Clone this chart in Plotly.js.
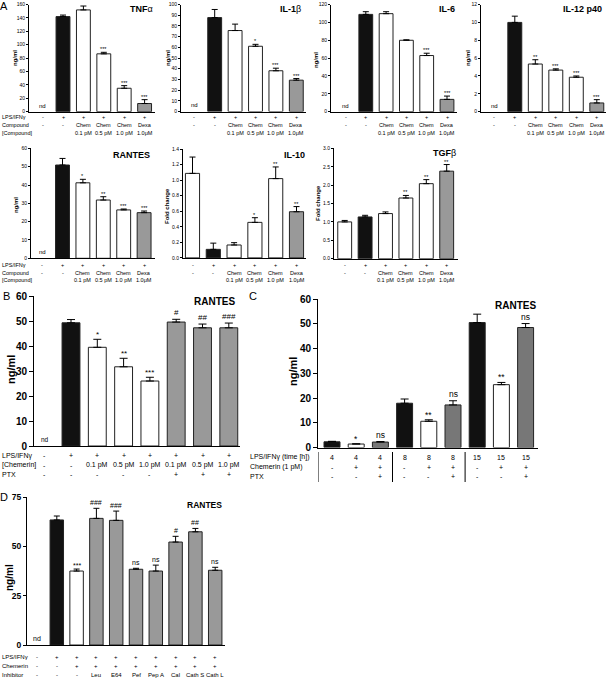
<!DOCTYPE html>
<html><head><meta charset="utf-8">
<script src="https://cdn.plot.ly/plotly-3.0.1.min.js"></script>
<style>body{margin:0;padding:0;background:#fff}#chart{width:608px;height:679px}</style>
</head><body><div id="chart"></div>
<script>
// ---------------- DATA ----------------
const aRow1 = ["-","+","+","+","+","+"];
const aRow2 = ["-","-","Chem","Chem","Chem","Dexa"];
const aRow3 = ["","","0.1 pM","0.5 pM","1.0 pM","1.0\u03bcM"];
const aRowLabels = ["LPS/IFN\u03b3","Compound","[Compound]"];

const tnfValues  = [null,142,152,86.4,35,12.2];
const tnfErrors  = [0,2.3,5.8,2.3,3.9,5.8];
const tnfSig     = ["","","","***","***","***"];

const il1bValues = [null,87.8,75.7,61,38.1,29.3];
const il1bErrors = [0,7.6,6,1.8,2.4,1.5];
const il1bSig    = ["","","","*","***","***"];

const il6Values  = [null,109,109.8,80,62.9,13.8];
const il6Errors  = [0,3,2.2,0.5,2.6,3.7];
const il6Sig     = ["","","","","***","***"];

const il12Values = [null,10.0,5.34,4.66,3.86,0.98];
const il12Errors = [0,0.7,0.48,0.14,0.14,0.37];
const il12Sig    = ["","","**","***","***","***"];

const rantesAValues = [null,50.9,41.2,31.8,26.4,24.9];
const rantesAErrors = [0,3.6,1.9,1.8,0.5,0.9];
const rantesASig    = ["","","*","**","***","***"];

const il10Values = [1.087,0.11,0.166,0.457,1.02,0.594];
const il10Errors = [0.21,0.08,0.03,0.06,0.15,0.066];
const il10Sig    = ["","","","*","**","**"];

const tgfbValues = [1.0,1.135,1.227,1.65,2.04,2.38];
const tgfbErrors = [0.04,0.045,0.045,0.07,0.11,0.18];
const tgfbSig    = ["","","","**","**","**"];

const aColorsND  = ["#ffffff","#111111","#ffffff","#ffffff","#ffffff","#999999"];
const aColorsFC  = ["#ffffff","#111111","#ffffff","#ffffff","#ffffff","#999999"];

const bRow1 = ["-","+","+","+","+","+","+","+"];
const bRow2 = ["-","-","0.1 pM","0.5 pM","1.0 pM","0.1 pM","0.5 pM","1.0 pM"];
const bRow3 = ["-","-","-","-","-","+","+","+"];
const bRowLabels = ["LPS/IFN\u03b3","[Chemerin]","PTX"];
const bValues = [null,49.3,39.5,31.7,26,49.6,47.3,47.3];
const bErrors = [0,1.3,3.2,3.4,1.5,1.1,1.5,1.9];
const bSig    = ["","","*","**","***","#","##","###"];
const bColors = ["#ffffff","#111111","#ffffff","#ffffff","#ffffff","#999999","#999999","#999999"];

const cRow1 = ["4","4","4","8","8","8","15","15","15"];
const cRow2 = ["-","+","+","-","+","+","-","+","+"];
const cRow3 = ["-","-","+","-","-","+","-","-","+"];
const cRowLabels = ["LPS/IFN\u03b3 (time [h])","Chemerin (1 pM)","PTX"];
const cValues = [2.3,1.4,2.2,17.9,10.6,17.2,50.5,25.4,48.5];
const cErrors = [0.2,0.1,0.2,1.7,0.6,1.7,3.4,0.9,1.6];
const cSig    = ["","*","ns","","**","ns","","**","ns"];
const cColors = ["#111111","#ffffff","#777777","#111111","#ffffff","#777777","#111111","#ffffff","#777777"];
const cGroupBreaks = [2.5,5.5];

const dRow1 = ["-","+","+","+","+","+","+","+","+","+"];
const dRow2 = ["-","-","+","+","+","+","+","+","+","+"];
const dRow3 = ["-","-","-","Leu","E64","Pef","Pep A","Cal","Cath S","Cath L"];
const dRowLabels = ["LPS/IFN\u03b3","Chemerin","Inhibitor"];
const dValues = [null,63.4,37.5,64.2,63.2,38.4,37.5,52.2,57.4,37.9];
const dErrors = [0,2,1,5.1,4.7,0.5,3,2.9,1.7,1.5];
const dSig    = ["","","***","###","###","ns","ns","#","##","ns"];
const dColors = ["#ffffff","#111111","#ffffff","#999999","#999999","#999999","#999999","#999999","#999999","#999999"];

// ---------------- LAYOUT ----------------
const W = 608, H = 679;
const FONT = "Liberation Sans, Arial, sans-serif";
const px = v => v / W;
const py = v => 1 - v / H;
const f = (size, extra) => Object.assign({size:size, family:FONT, color:"#000"}, extra || {});

const panels = [
  {vals:tnfValues, errs:tnfErrors, sig:tnfSig, cols:aColorsND, rows:[aRow1,aRow2,aRow3], rowLabels:aRowLabels, rowLabelX:0,
   rowY:[117,125,133], left:29,right:155,top:4.5,bottom:111.7,c0:42.6,sp:20.4,ymax:160,dtick:20,fmt:"",
   title:"<b>TNF</b>\u03b1", tx:141, ty:9, tsize:9, ytitle:"ng/ml", ytx:15, yty:58, nd:true, kind:"A"},
  {vals:il1bValues, errs:il1bErrors, sig:il1bSig, cols:aColorsND, rows:[aRow1,aRow2,aRow3], rowLabels:null,
   rowY:[117,125,133], left:181,right:306,top:4.5,bottom:111.5,c0:194.3,sp:20.4,ymax:100,dtick:10,fmt:"",
   title:"<b>IL-1</b>\u03b2", tx:290, ty:9, tsize:9, ytitle:"ng/ml", ytx:168, yty:58, nd:true, kind:"A"},
  {vals:il6Values, errs:il6Errors, sig:il6Sig, cols:aColorsND, rows:[aRow1,aRow2,aRow3], rowLabels:null,
   rowY:[117,125,133], left:331,right:457,top:4.5,bottom:111.7,c0:345.5,sp:20.3,ymax:120,dtick:20,fmt:"",
   title:"<b>IL-6</b>", tx:447, ty:9, tsize:9, ytitle:"ng/ml", ytx:316, yty:60, nd:true, kind:"A"},
  {vals:il12Values, errs:il12Errors, sig:il12Sig, cols:aColorsND, rows:[aRow1,aRow2,aRow3], rowLabels:null,
   rowY:[117,125,133], left:481,right:606,top:4.5,bottom:111.7,c0:494.3,sp:20.5,ymax:12,dtick:2,fmt:"",
   title:"<b>IL-12 p40</b>", tx:582, ty:9, tsize:9, ytitle:"ng/ml", ytx:468, yty:58, nd:true, kind:"A"},
  {vals:rantesAValues, errs:rantesAErrors, sig:rantesASig, cols:aColorsND, rows:[aRow1,aRow2,aRow3], rowLabels:aRowLabels, rowLabelX:0,
   rowY:[265,272.7,280.3], left:31,right:155,top:148.3,bottom:258.3,c0:42.1,sp:20.4,ymax:60,dtick:10,fmt:"",
   title:"<b>RANTES</b>", tx:131, ty:155, tsize:9, ytitle:"ng/ml", ytx:16, yty:205, nd:true, kind:"A"},
  {vals:il10Values, errs:il10Errors, sig:il10Sig, cols:aColorsFC, rows:[aRow1,aRow2,aRow3], rowLabels:null,
   rowY:[265,272.7,280.3], left:183,right:306,top:149,bottom:257.9,c0:192.5,sp:20.8,ymax:1.4,dtick:0.2,fmt:".1f",
   title:"<b>IL-10</b>", tx:294, ty:155, tsize:9, ytitle:"Fold change", ytx:167, yty:206, nd:false, kind:"A"},
  {vals:tgfbValues, errs:tgfbErrors, sig:tgfbSig, cols:aColorsFC, rows:[aRow1,aRow2,aRow3], rowLabels:null,
   rowY:[265,272.7,280.3], left:334,right:458,top:148.3,bottom:258.7,c0:344.7,sp:20.4,ymax:3,dtick:0.5,fmt:".1f",
   title:"<b>TGF</b>\u03b2", tx:444, ty:153, tsize:9, ytitle:"Fold change", ytx:318, yty:203, nd:false, kind:"A"},
  {vals:bValues, errs:bErrors, sig:bSig, cols:bColors, rows:[bRow1,bRow2,bRow3], rowLabels:bRowLabels, rowLabelX:0,
   rowY:[456,465,474], left:34,right:240,top:296,bottom:446,c0:44.7,sp:26.3,ymax:60,dtick:10,fmt:"",
   title:"<b>RANTES</b>", tx:214, ty:301, tsize:10, ytitle:"ng/ml", ytx:11, yty:370, nd:true, kind:"B"},
  {vals:cValues, errs:cErrors, sig:cSig, cols:cColors, rows:[cRow1,cRow2,cRow3], rowLabels:cRowLabels, rowLabelX:248,
   rowY:[457,467,477], left:318,right:538,top:299,bottom:447.5,c0:332,sp:24.2,ymax:60,dtick:10,fmt:"",
   title:"<b>RANTES</b>", tx:515, ty:306, tsize:10, ytitle:"ng/ml", ytx:293, yty:372, nd:false, kind:"C"},
  {vals:dValues, errs:dErrors, sig:dSig, cols:dColors, rows:[dRow1,dRow2,dRow3], rowLabels:dRowLabels, rowLabelX:0,
   rowY:[657,666,675], left:27,right:225,top:497,bottom:645,c0:37,sp:19.8,ymax:75,dtick:25,fmt:"",
   title:"<b>RANTES</b>", tx:204, ty:505, tsize:8.5, ytitle:"ng/ml", ytx:9, yty:578, nd:true, kind:"D"}
];

const style = {
  A:{tick:5, tickBold:false, ticklen:2, lab:5.5, sig:5.5, ytitle:6, nd:6, bw:0.68, cap:3},
  B:{tick:10, tickBold:true, ticklen:4, lab:7, sig:8, ytitle:11, nd:6.5, bw:0.68, cap:4},
  C:{tick:10, tickBold:true, ticklen:4, lab:7, sig:8.5, ytitle:11, nd:6.5, bw:0.66, cap:4},
  D:{tick:8.5, tickBold:true, ticklen:3, lab:6, sig:7, ytitle:10, nd:7, bw:0.68, cap:3}
};

const traces = [];
const layout = {
  width:W, height:H, margin:{l:0,r:0,t:0,b:0}, showlegend:false,
  paper_bgcolor:"#fff", plot_bgcolor:"rgba(0,0,0,0)",
  font:{family:FONT, color:"#000"}, annotations:[], shapes:[]
};

panels.forEach((p, k) => {
  const s = style[p.kind];
  const xa = k === 0 ? "xaxis" : "xaxis" + (k+1);
  const ya = k === 0 ? "yaxis" : "yaxis" + (k+1);
  const xr = k === 0 ? "x" : "x" + (k+1);
  const yr = k === 0 ? "y" : "y" + (k+1);
  const idx = p.vals.map((_, i) => i);
  traces.push({
    type:"bar", x:idx, y:p.vals, xaxis:xr, yaxis:yr, width:s.bw,
    marker:{color:p.cols, line:{color:"#222", width:1}},
    error_y:{type:"data", symmetric:false, array:p.errs, arrayminus:p.errs.map(()=>0),
             color:"#000", thickness:1, width:s.cap},
    hoverinfo:"skip"
  });
  layout[xa] = {
    domain:[px(p.left), px(p.right)], anchor:yr,
    range:[(p.left-p.c0)/p.sp, (p.right-p.c0)/p.sp],
    showline:true, linecolor:"#000", linewidth:1, ticks:"", showticklabels:false,
    showgrid:false, zeroline:false, fixedrange:true
  };
  layout[ya] = {
    domain:[py(p.bottom), py(p.top)], anchor:xr, range:[0, p.ymax*1.0005],
    dtick:p.dtick, tick0:0, tickformat:p.fmt, ticklabeloverflow:"allow",
    showline:true, linecolor:"#000", linewidth:1, ticks:"outside", ticklen:s.ticklen, tickwidth:1,
    tickcolor:"#000",
    tickfont:f(s.tick, {weight: s.tickBold ? "bold" : "normal"}),
    showgrid:false, zeroline:false, fixedrange:true
  };
  layout.annotations.push({xref:"paper", yref:"paper", x:px(p.tx), y:py(p.ty), text:p.title,
    showarrow:false, xanchor:"center", yanchor:"middle", font:f(p.tsize)});
  layout.annotations.push({xref:"paper", yref:"paper", x:px(p.ytx), y:py(p.yty), text:"<b>"+p.ytitle+"</b>",
    showarrow:false, textangle:-90, xanchor:"center", yanchor:"middle", font:f(s.ytitle)});
  if (p.nd) layout.annotations.push({xref:xr, yref:yr, x:0, y:0, text:"nd", showarrow:false,
    yanchor:"bottom", yshift:1, font:f(s.nd)});
  p.sig.forEach((t, i) => {
    if (!t) return;
    layout.annotations.push({xref:xr, yref:yr, x:i, y:(p.vals[i]||0)+p.errs[i], text:t, showarrow:false,
      yanchor:"bottom", yshift:(t.indexOf("*")>=0 ? -2 : 0), font:f(s.sig)});
  });
  p.rows.forEach((row, r) => {
    row.forEach((t, i) => {
      if (!t) return;
      layout.annotations.push({xref:xr, yref:"paper", x:i, y:py(p.rowY[r]), text:t, showarrow:false,
        xanchor:"center", yanchor:"middle", font:f(s.lab)});
    });
  });
  if (p.rowLabels) p.rowLabels.forEach((t, r) => {
    layout.annotations.push({xref:"paper", yref:"paper", x:px(p.rowLabelX), y:py(p.rowY[r]), text:t, showarrow:false,
      xanchor:"left", yanchor:"middle", font:f(s.lab)});
  });
  if (p.kind === "C") {
    [(p.left-p.c0)/p.sp].concat(cGroupBreaks).forEach(b => {
      layout.shapes.push({type:"line", xref:xr, yref:"paper", x0:b, x1:b, y0:py(452), y1:py(482),
        line:{color:"#000", width:1}});
    });
  }
});

[["A",4,6],["B",6,296],["C",253,296],["D",4,497]].forEach(([t,x,y]) => {
  layout.annotations.push({xref:"paper", yref:"paper", x:px(x), y:py(y), text:t, showarrow:false,
    xanchor:"center", yanchor:"middle", font:f(11)});
});

Plotly.newPlot("chart", traces, layout, {staticPlot:true, displayModeBar:false});
</script>
</body></html>
